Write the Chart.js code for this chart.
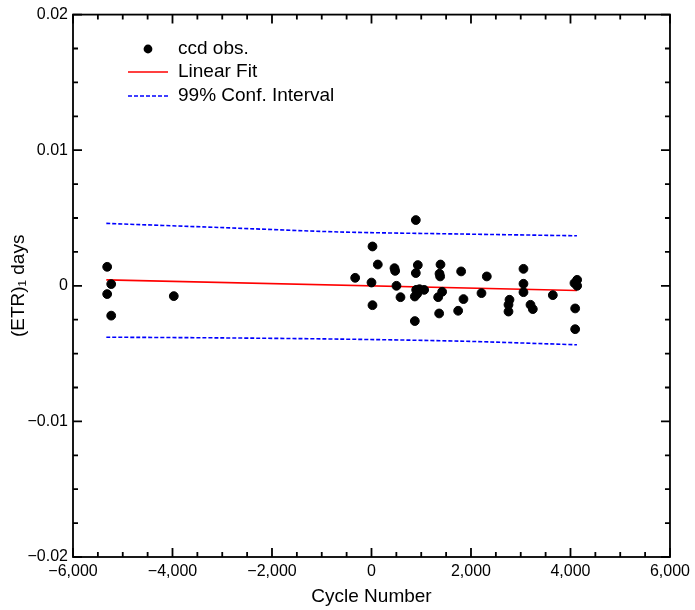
<!DOCTYPE html>
<html>
<head>
<meta charset="utf-8">
<script src="https://cdn.jsdelivr.net/npm/chart.js@4"></script>
<style>
  html, body { margin: 0; padding: 0; background: #fff; }
  #wrap { width: 695px; height: 610px; }
</style>
</head>
<body>
<div id="wrap"><canvas id="myChart"></canvas></div>
<script>
// observations (cycle number, ETR residual in days)
const obsCycle = [-5313, -5232, -5313, -5232, -3974,
  -328, 0, 20, 20, 127, 462, 476, 502, 583, 871, 871, 891, 891, 898, 918, 931, 965, 1059,
  1340, 1360, 1367, 1380, 1387, 1420, 1742, 1802, 1849, 2211, 2318,
  2754, 2754, 2774, 3055, 3055, 3055, 3196, 3243, 3645, 4080, 4094, 4094, 4134, 4134];
const obsResid = [0.0014, 0.000125, -0.00061, -0.0022, -0.00076,
  0.00059, 0.00024, 0.0029, -0.00143, 0.00157, 0.0013, 0.0011, 0.0, -0.00084, -0.00079, -0.0026, 0.00485, 0.00094, -0.0003, -0.00059, 0.00153, -0.00025, -0.0003,
  -0.00084, -0.00204, 0.00089, 0.00069, 0.00157, -0.00044, -0.00184, 0.00106, -0.00098, -0.00054, 0.00069,
  -0.0014, -0.0019, -0.00103, 0.00125, 0.00015, -0.00047, -0.0014, -0.00172, -0.00069, 0.0002, -0.00167, -0.0032, 0.00044, 0.0];

// linear fit
const fitCycle = [-5330, 4130];
const fitResid = [0.00044, -0.00035];

// 99% confidence band
const bandCycle = [-5330, -3055, -643, 1769, 4130];
const bandUpper = [0.0046, 0.0043, 0.00397, 0.00382, 0.00369];
const bandLower = [-0.00379, -0.00384, -0.00393, -0.00408, -0.00435];

const legendLabels = ['ccd obs.', 'Linear Fit', '99% Conf. Interval'];

const toXY = (xs, ys) => xs.map((x, i) => ({ x: x, y: ys[i] }));
const minus = s => s.replace('-', '\u2212');

// frame + inward ticks on all four sides
const frameTicks = {
  id: 'frameTicks',
  afterDatasetsDraw(chart) {
    const { ctx, chartArea: a, scales: { x, y } } = chart;
    ctx.save();
    ctx.strokeStyle = '#000';
    ctx.lineWidth = 1.8;
    ctx.strokeRect(a.left, a.top, a.right - a.left, a.bottom - a.top);
    ctx.beginPath();
    for (let v = -6000; v <= 6000; v += 500) {
      const px = x.getPixelForValue(v);
      const len = v % 2000 === 0 ? 9 : 5;
      ctx.moveTo(px, a.bottom); ctx.lineTo(px, a.bottom - len);
      ctx.moveTo(px, a.top); ctx.lineTo(px, a.top + len);
    }
    for (let i = -8; i <= 8; i++) {
      const py = y.getPixelForValue(i * 0.0025);
      const len = i % 4 === 0 ? 9 : 5;
      ctx.moveTo(a.left, py); ctx.lineTo(a.left + len, py);
      ctx.moveTo(a.right, py); ctx.lineTo(a.right - len, py);
    }
    ctx.stroke();
    ctx.restore();
  }
};

// legend inside plot, top left
const insideLegend = {
  id: 'insideLegend',
  afterDraw(chart) {
    const { ctx } = chart;
    const rows = [49, 72, 96];
    ctx.save();
    ctx.font = '19px "Liberation Sans", Arial, sans-serif';
    ctx.fillStyle = '#000';
    ctx.textBaseline = 'middle';
    ctx.beginPath();
    ctx.arc(148, rows[0], 4.4, 0, Math.PI * 2);
    ctx.fill();
    ctx.strokeStyle = 'red';
    ctx.lineWidth = 1.6;
    ctx.beginPath(); ctx.moveTo(128, rows[1]); ctx.lineTo(168, rows[1]); ctx.stroke();
    ctx.strokeStyle = 'blue';
    ctx.setLineDash([4, 2]);
    ctx.beginPath(); ctx.moveTo(128, rows[2]); ctx.lineTo(168, rows[2]); ctx.stroke();
    ctx.setLineDash([]);
    legendLabels.forEach((t, i) => ctx.fillText(t, 178, rows[i]));
    ctx.restore();
  }
};

const tickFont = { family: '"Liberation Sans", Arial, sans-serif', size: 16 };
const titleFont = { family: '"Liberation Sans", Arial, sans-serif', size: 19 };

new Chart(document.getElementById('myChart'), {
  type: 'scatter',
  data: {
    datasets: [{
      label: legendLabels[0],
      data: toXY(obsCycle, obsResid),
      backgroundColor: '#000',
      borderColor: '#000',
      pointRadius: 4.4,
      order: 0
    }, {
      label: legendLabels[1],
      type: 'line',
      data: toXY(fitCycle, fitResid),
      borderColor: 'red',
      borderWidth: 1.6,
      pointRadius: 0,
      order: 1
    }, {
      label: legendLabels[2],
      type: 'line',
      data: toXY(bandCycle, bandUpper),
      borderColor: 'blue',
      borderWidth: 1.6,
      borderDash: [4, 2],
      pointRadius: 0,
      tension: 0.3,
      order: 2
    }, {
      label: legendLabels[2] + ' (lower)',
      type: 'line',
      data: toXY(bandCycle, bandLower),
      borderColor: 'blue',
      borderWidth: 1.6,
      borderDash: [4, 2],
      pointRadius: 0,
      tension: 0.3,
      order: 2
    }]
  },
  options: {
    responsive: true,
    maintainAspectRatio: false,
    animation: false,
    layout: { padding: { top: 13, right: 24, left: 0, bottom: 0 } },
    scales: {
      x: {
        type: 'linear',
        min: -6000,
        max: 6000,
        afterFit: s => { s.height = 53; },
        grid: { display: false, drawTicks: false },
        border: { display: false },
        ticks: {
          stepSize: 2000,
          padding: 5,
          color: '#000',
          font: tickFont,
          maxRotation: 0,
          callback: v => minus(v.toLocaleString('en-US'))
        },
        title: {
          display: true,
          text: 'Cycle Number',
          color: '#000',
          font: titleFont,
          padding: { top: 0, bottom: 2 }
        }
      },
      y: {
        min: -0.02,
        max: 0.02,
        afterFit: s => { s.width = 73; },
        grid: { display: false, drawTicks: false },
        border: { display: false },
        ticks: {
          stepSize: 0.01,
          padding: 5,
          color: '#000',
          font: tickFont,
          callback: v => minus(String(Math.round(v * 100) / 100))
        },
        title: {
          display: true,
          text: '(ETR)\u2081 days',
          color: '#000',
          font: titleFont,
          padding: { top: 7, bottom: 0 }
        }
      }
    },
    plugins: {
      legend: { display: false },
      tooltip: { enabled: false }
    }
  },
  plugins: [frameTicks, insideLegend]
});
</script>
</body>
</html>
